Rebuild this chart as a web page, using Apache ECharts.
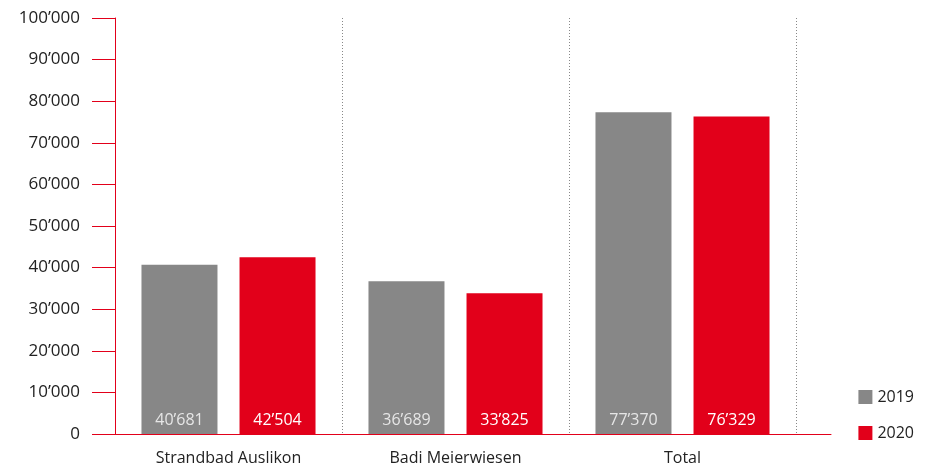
<!DOCTYPE html>
<html>
<head>
<meta charset="utf-8">
<script src="https://cdn.jsdelivr.net/npm/echarts@6/dist/echarts.min.js"></script>
<style>html,body{margin:0;padding:0;background:#fff}#c{width:927px;height:470px}</style>
</head>
<body>
<div id="c"></div>
<script>
var categories = ['Strandbad Auslikon', 'Badi Meierwiesen', 'Total'];
var series2019 = [40681, 36689, 77370];
var series2020 = [42504, 33825, 76329];
var yTicks = { min: 0, max: 100000, interval: 10000 };

function fmt(v) {
  return Math.round(v).toString().replace(/\B(?=(\d{3})+(?!\d))/g, '\u2019');
}
var RED = '#e2001a', GRAY = '#878787';
var FONT = 'Open Sans';
var chart = echarts.init(document.getElementById('c'));
chart.setOption({
  animation: false,
  textStyle: { fontFamily: FONT },
  legend: {
    orient: 'vertical', right: 8, top: 384,
    itemWidth: 14, itemHeight: 14, itemGap: 20,
    icon: 'rect',
    textStyle: { fontSize: 16, color: '#222', fontFamily: FONT },
    data: ['2019', '2020']
  },
  grid: [
    { left: 115, right: 131, top: 18, bottom: 36 },
    { left: 115, right: 96, top: 18, bottom: 36 }
  ],
  xAxis: [
    {
      type: 'category', data: categories, gridIndex: 0,
      axisLine: { show: true, lineStyle: { color: RED, width: 1 } },
      axisTick: { show: false },
      axisLabel: { fontSize: 16, color: '#222', margin: 16, fontFamily: FONT },
      splitLine: { show: true, lineStyle: { color: '#888', type: [1, 2], width: 1 } }
    },
    {
      type: 'value', gridIndex: 1, min: 0, max: 1,
      axisLine: { show: true, onZero: false, lineStyle: { color: RED, width: 1 } },
      axisTick: { show: false }, axisLabel: { show: false }, splitLine: { show: false }
    }
  ],
  yAxis: [
    {
      type: 'value', gridIndex: 0, min: yTicks.min, max: yTicks.max, interval: yTicks.interval,
      axisLine: { show: true, lineStyle: { color: RED, width: 1 } },
      axisTick: { show: true, length: 23, lineStyle: { color: RED, width: 1 } },
      axisLabel: { fontSize: 17, color: '#222', margin: 35, formatter: fmt, fontFamily: FONT },
      splitLine: { show: false }
    },
    {
      type: 'value', gridIndex: 1, min: 0, max: 1, show: false
    }
  ],
  series: [
    {
      name: '2019', type: 'bar', data: series2019, xAxisIndex: 0, yAxisIndex: 0,
      barWidth: 76, barGap: '29%',
      itemStyle: { color: GRAY },
      label: { show: true, position: 'insideBottom', distance: 6, color: '#e6e6e6', fontSize: 16, formatter: function (p) { return fmt(p.value); }, fontFamily: FONT }
    },
    {
      name: '2020', type: 'bar', data: series2020, xAxisIndex: 0, yAxisIndex: 0,
      barWidth: 76, barGap: '29%',
      itemStyle: { color: RED },
      label: { show: true, position: 'insideBottom', distance: 6, color: '#ffffff', fontSize: 16, formatter: function (p) { return fmt(p.value); }, fontFamily: FONT }
    }
  ]
});
</script>
</body>
</html>
